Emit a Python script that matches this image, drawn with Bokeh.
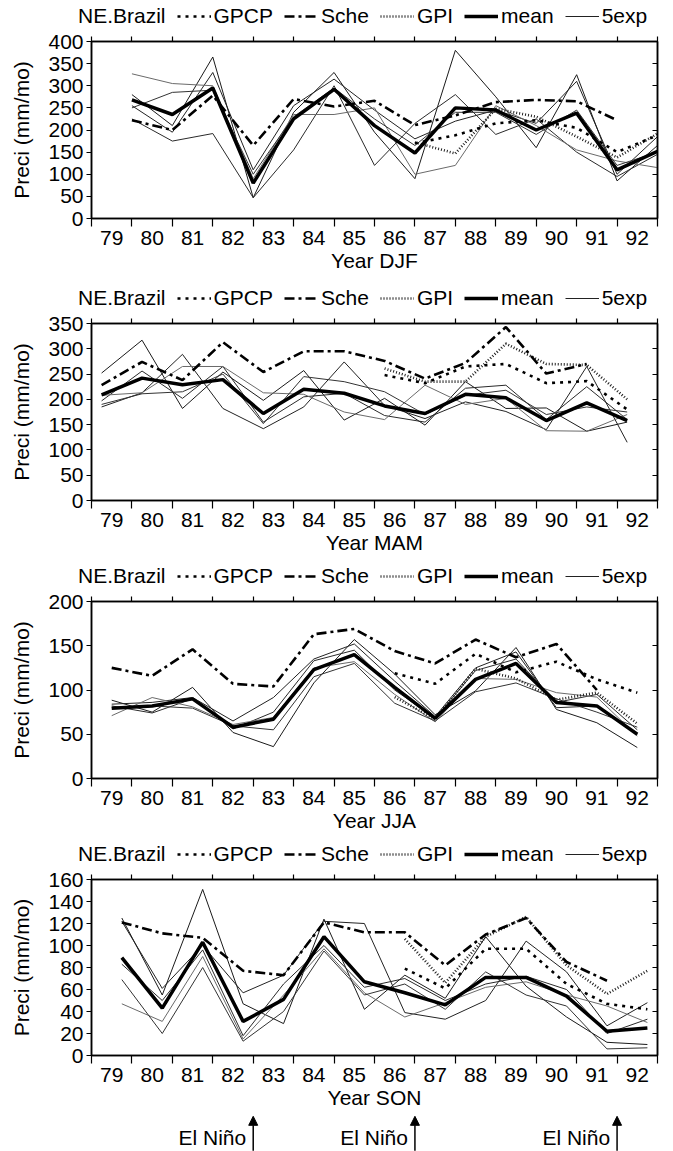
from bokeh.plotting import figure
from bokeh.models import Range1d, FixedTicker, LinearAxis, Legend, LegendItem, Arrow, NormalHead
from bokeh.layouts import column
from bokeh.embed import file_html
from bokeh.resources import INLINE
from bokeh.core.properties import value

N = float("nan")
FONT = "Liberation Sans"
years = list(range(79, 93))
elnino_years = [82, 86, 91]

season_names = ["DJF", "MAM", "JJA", "SON"]
season_shift = {"DJF": 0.5, "MAM": -0.25, "JJA": 0.0, "SON": 0.25}
y_ticks = {
    "DJF": [0, 50, 100, 150, 200, 250, 300, 350, 400],
    "MAM": [0, 50, 100, 150, 200, 250, 300, 350],
    "JJA": [0, 50, 100, 150, 200],
    "SON": [0, 20, 40, 60, 80, 100, 120, 140, 160],
}
legend_title = "NE.Brazil"
legend_labels = ["GPCP", "Sche", "GPI", "mean", "5exp"]

# ---------------- DJF ----------------
djf_mean = [268, 235, 295, 80, 225, 292, 210, 148, 250, 245, 200, 238, 110, 152]
djf_sche = [222, 200, 278, 165, 270, 253, 266, 211, 233, 263, 268, 265, 222, N]
djf_gpcp = [N, N, N, N, N, N, N, 170, 188, 215, 222, 205, 150, 188]
djf_gpi = [N, N, N, N, N, N, N, 172, 147, 248, 230, 185, 138, 192]
djf_exp1 = [280, 210, 365, 47, 240, 330, 195, 90, 380, 275, 160, 325, 85, 165]
djf_exp2 = [255, 195, 330, 110, 255, 315, 245, 180, 220, 245, 215, 310, 100, 185]
djf_exp3 = [225, 175, 192, 47, 155, 300, 120, 215, 280, 190, 225, 150, 95, 145]
djf_exp4 = [327, 305, 300, 90, 235, 235, 250, 100, 120, 255, 210, 155, 130, 115]
djf_exp5 = [250, 285, 290, 100, 230, 295, 225, 165, 240, 240, 190, 245, 120, 150]

# ---------------- MAM ----------------
mam_mean = [209, 242, 229, 239, 172, 220, 212, 187, 172, 210, 203, 158, 193, 158]
mam_sche = [228, 274, 238, 313, 254, 295, 295, 276, 241, 272, 343, 251, 270, N]
mam_gpcp = [N, N, N, N, N, N, N, 248, 232, 265, 270, 232, 236, 180]
mam_gpi = [N, N, N, N, N, N, N, 261, 235, 235, 310, 270, 268, 200]
mam_exp1 = [252, 317, 182, 254, 198, 257, 159, 202, 149, 235, 182, 183, 137, 155]
mam_exp2 = [185, 213, 289, 182, 142, 185, 274, 188, 162, 195, 176, 140, 265, 115]
mam_exp3 = [197, 256, 202, 265, 155, 205, 212, 168, 155, 222, 228, 160, 225, 160]
mam_exp4 = [208, 213, 265, 265, 213, 210, 175, 160, 228, 190, 202, 138, 137, 170]
mam_exp5 = [190, 211, 215, 250, 152, 245, 235, 215, 170, 208, 218, 170, 185, 175]

# ---------------- JJA ----------------
jja_mean = [79.5, 82, 90, 58, 67, 123, 140, 103, 68, 112, 130, 86, 82, 50]
jja_sche = [125, 116, 146, 107, 104, 163, 169, 144, 130, 157, 137, 152, 100, N]
jja_gpcp = [N, N, N, N, N, N, N, 119, 107, 141, 120, 132, 112, 97]
jja_gpi = [N, N, N, N, N, N, N, 92, 67, 124, 113, 89, 97, 62]
jja_exp1 = [88.5, 75, 103, 52, 36, 108, 157, 118, 72, 99, 148, 78, 63, 35]
jja_exp2 = [84, 86, 91.5, 65, 91.5, 135, 152, 110, 70, 125, 143, 80, 82, 50]
jja_exp3 = [82, 74, 90, 56, 75, 133, 145, 100, 68, 122, 135, 86, 95, 55]
jja_exp4 = [71, 91.5, 81, 61, 69, 125, 132, 95, 64, 113, 112, 97, 92, 48]
jja_exp5 = [80, 82, 79.5, 59.5, 55, 115, 130, 85, 65, 98, 108, 90, 75, 58]

# ---------------- SON ----------------
son_mean = [89, 43, 103, 31, 51, 108, 67, 57, 46, 71, 71, 54, 22, 25]
son_sche = [121, 111, 107, 77, 73, 121, 112, 112, 82, 110, 125, 85, 68, N]
son_gpcp = [N, N, N, N, N, N, N, 79, 61, 97, 97, 65, 47, 42]
son_gpi = [N, N, N, N, N, N, N, 106, 66, 108, 126, 82, 56, 77]
son_exp1 = [125, 55, 151, 47, 29, 124, 42, 73, 52, 108, 63, 35, 12, 10]
son_exp2 = [122, 61, 100, 57, 73, 122, 120, 39, 33, 50, 104, 76, 27, 48]
son_exp3 = [83, 50, 96, 18, 65, 100, 62, 70, 50, 65, 72, 60, 20, 33]
son_exp4 = [47, 31, 90, 15, 55, 97, 57, 35, 48, 62, 67, 55, 45, 30]
son_exp5 = [69, 20, 80, 13, 40, 95, 55, 65, 42, 76, 55, 45, 6, 7]

data = {
    "DJF": (djf_mean, djf_sche, djf_gpcp, djf_gpi, [djf_exp1, djf_exp2, djf_exp3, djf_exp4, djf_exp5]),
    "MAM": (mam_mean, mam_sche, mam_gpcp, mam_gpi, [mam_exp1, mam_exp2, mam_exp3, mam_exp4, mam_exp5]),
    "JJA": (jja_mean, jja_sche, jja_gpcp, jja_gpi, [jja_exp1, jja_exp2, jja_exp3, jja_exp4, jja_exp5]),
    "SON": (son_mean, son_sche, son_gpcp, son_gpi, [son_exp1, son_exp2, son_exp3, son_exp4, son_exp5]),
}

# ---------------- layout / style ----------------
PAGE_W = 673
FW = 566
BL, BR = 91, PAGE_W - 91 - 566
FS = "21px"
x_range = Range1d(78.5, 92.5)
bounds = [y - 0.5 for y in years] + [years[-1] + 0.5]

legend_h = {"DJF": 28, "MAM": 25, "JJA": 25, "SON": 25}
frame_h = {"DJF": 177, "MAM": 177, "JJA": 177, "SON": 176}
border_top = {"DJF": 13, "MAM": 13, "JJA": 13, "SON": 13}
border_bottom = {"DJF": 67, "MAM": 63, "JJA": 63, "SON": 55}
ITEM_H = 24
GLYPH_W = 34

STYLE = {
    "gpi": dict(line_color="#1e1e1e", line_width=2.6, line_dash="1 2"),
    "gpcp": dict(line_color="black", line_width=2.6, line_dash="3 5"),
    "sche": dict(line_color="black", line_width=2.6, line_dash="10 4 3 4"),
    "mean": dict(line_color="black", line_width=3.5),
    "exp": dict(line_color="#222222", line_width=1.0),
    "none": dict(line_color="black", line_alpha=0.0, line_width=1.0),
}
exp_colors = ["#1a1a1a", "#222222", "#2a2a2a", "#6a6a6a", "#333333"]


def style_axis(ax):
    ax.axis_line_color = "black"
    ax.axis_line_width = 1.5
    ax.major_tick_line_color = "black"
    ax.minor_tick_line_color = "black"
    ax.major_tick_line_width = 1.2
    ax.minor_tick_line_width = 1.2
    ax.major_label_text_font = FONT
    ax.major_label_text_font_size = FS
    ax.major_label_text_color = "black"
    ax.axis_label_text_font = FONT
    ax.axis_label_text_font_size = FS
    ax.axis_label_text_font_style = "normal"
    ax.axis_label_text_color = "black"


def legend_row(h):
    lf = figure(frame_width=PAGE_W, frame_height=h, x_range=Range1d(0, 1), y_range=Range1d(0, 1),
                x_axis_type=None, y_axis_type=None, min_border=0,
                output_backend="svg", toolbar_location=None)
    lf.outline_line_color = None
    keys = ["none", "gpcp", "sche", "gpi", "mean", "exp"]
    labels = [legend_title] + legend_labels
    # legend-only sample renderers (NaN data: nothing drawn in the plot area)
    rs = [lf.line([N, N], [N, N], **STYLE[k]) for k in keys]
    leg = Legend(items=[LegendItem(label=lab, renderers=[r]) for lab, r in zip(labels, rs)],
                 orientation="horizontal", location=(78 - GLYPH_W - 3, 0))
    leg.border_line_color = None
    leg.background_fill_alpha = 0
    leg.padding = 0
    leg.margin = 0
    leg.spacing = 11
    leg.glyph_width = GLYPH_W
    leg.glyph_height = ITEM_H
    leg.label_height = ITEM_H
    leg.label_standoff = 3
    leg.label_text_font = FONT
    leg.label_text_font_size = FS
    leg.label_text_color = "black"
    lf.add_layout(leg, "center")
    return lf


rows = []
for s in season_names:
    mean, sche, gpcp, gpi, exps = data[s]
    xs = [y + season_shift[s] for y in years]
    yt = y_ticks[s]
    p = figure(frame_width=FW, frame_height=frame_h[s], x_range=x_range,
               y_range=Range1d(yt[0], yt[-1]),
               x_axis_type=None, y_axis_type=None,
               min_border_left=BL, min_border_right=BR,
               min_border_top=border_top[s], min_border_bottom=border_bottom[s],
               output_backend="svg", toolbar_location=None)
    p.outline_line_color = "black"
    p.outline_line_width = 1.5

    xb = LinearAxis(ticker=FixedTicker(ticks=years, minor_ticks=bounds), axis_label=f"Year {s}")
    style_axis(xb)
    xb.major_tick_out = 0
    xb.major_tick_in = 0
    xb.minor_tick_out = 8
    xb.minor_tick_in = 0
    xb.major_label_standoff = 4
    xb.axis_label_standoff = 1
    p.add_layout(xb, "below")

    xt = LinearAxis(ticker=FixedTicker(ticks=[], minor_ticks=bounds))
    style_axis(xt)
    xt.minor_tick_out = 5
    xt.minor_tick_in = 0
    xt.major_label_standoff = 0
    p.add_layout(xt, "above")

    yl = LinearAxis(ticker=FixedTicker(ticks=yt, minor_ticks=[]), axis_label="Preci (mm/mo)")
    style_axis(yl)
    yl.major_tick_out = 5
    yl.major_tick_in = 0
    yl.major_label_standoff = 3
    yl.axis_label_standoff = 12
    p.add_layout(yl, "left")

    yr = LinearAxis(ticker=FixedTicker(ticks=[], minor_ticks=yt))
    style_axis(yr)
    yr.minor_tick_out = 0
    yr.minor_tick_in = 5
    yr.major_label_standoff = 0
    p.add_layout(yr, "right")

    for e, c in zip(exps, exp_colors):
        p.line(xs, e, line_color=c, line_width=1.0)
    p.line(xs, gpi, **STYLE["gpi"])
    p.line(xs, gpcp, **STYLE["gpcp"])
    p.line(xs, sche, **STYLE["sche"])
    p.line(xs, mean, **STYLE["mean"])

    rows.append(legend_row(legend_h[s]))
    rows.append(p)

# El Nino markers below the last panel
pe = figure(frame_width=FW, frame_height=40, x_range=x_range, y_range=Range1d(0, 1),
            x_axis_type=None, y_axis_type=None,
            min_border_left=BL, min_border_right=BR, min_border_top=0, min_border_bottom=0,
            output_backend="svg", toolbar_location=None)
pe.outline_line_color = None
ex = [y + 0.5 for y in elnino_years]
pe.text(x=ex, y=[0.35] * len(ex), text=["El Niño"] * len(ex), text_align="right",
        text_baseline="middle", x_offset=-7, text_font=value(FONT), text_font_size=FS,
        text_color="black")
for x in ex:
    pe.add_layout(Arrow(x_start=x, y_start=0.02, x_end=x, y_end=0.88, line_width=1.5,
                        line_color="black",
                        end=NormalHead(size=9, fill_color="black", line_color="black")))
rows.append(pe)

layout = column(*rows)
open("out.html", "w").write(file_html(layout, INLINE))
